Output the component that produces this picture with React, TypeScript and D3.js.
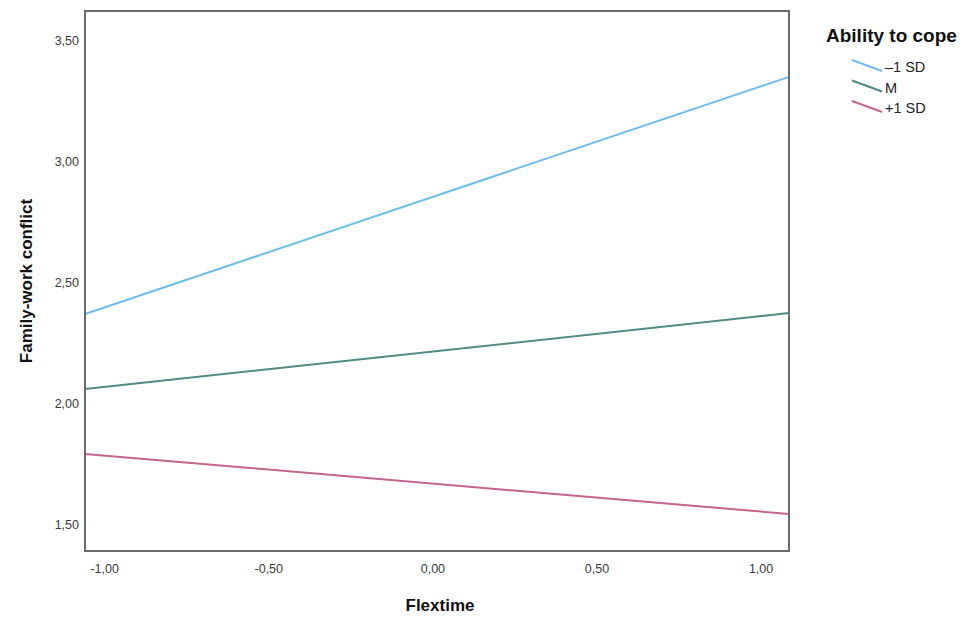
import React, { useEffect, useRef } from 'react';
import * as d3 from 'd3';

// Simple slopes: Family-work conflict by Flextime at levels of Ability to cope
const groups = ['\u20131 SD', 'M', '+1 SD'];
const colors = ['#6cbdf0', '#4f8c84', '#c4648f'];
const flexRange = [-1.06, 1.085];
const startValues = [2.372, 2.062, 1.794];
const endValues = [3.352, 2.376, 1.546];
const xTicks = [-1, -0.5, 0, 0.5, 1];
const yTicks = [1.5, 2, 2.5, 3, 3.5];

const W = 968;
const H = 617;
const margin = { top: 11, right: 179, bottom: 66, left: 85 };

export default function App() {
  const svgRef = useRef<SVGSVGElement | null>(null);

  useEffect(() => {
    const svg = d3.select(svgRef.current);
    svg.selectAll('*').remove();
    const innerW = W - margin.left - margin.right;
    const innerH = H - margin.top - margin.bottom;
    const font = 'Liberation Sans, Arial, sans-serif';

    const x = d3.scaleLinear().domain(flexRange).range([0, innerW]);
    const y = d3.scaleLinear().domain([1.393, 3.624]).range([innerH, 0]);
    const fmt = (v: number) => d3.format('.2f')(v).replace('.', ',').replace('\u2212', '-');

    const g = svg.append('g').attr('transform', `translate(${margin.left},${margin.top})`);

    // Lines
    const line = d3.line<[number, number]>().x(d => x(d[0])).y(d => y(d[1]));
    groups.forEach((name, i) => {
      g.append('path')
        .datum([[flexRange[0], startValues[i]], [flexRange[1], endValues[i]]] as [number, number][])
        .attr('d', line)
        .attr('fill', 'none')
        .attr('stroke', colors[i])
        .attr('stroke-width', 2);
    });

    // Frame
    g.append('rect').attr('x', 0).attr('y', 0).attr('width', innerW).attr('height', innerH)
      .attr('fill', 'none').attr('stroke', '#6b6b6b').attr('stroke-width', 2);

    // Tick labels
    g.selectAll('.ytick').data(yTicks).join('text').attr('class', 'ytick')
      .attr('x', -6).attr('y', d => y(d)).attr('dy', '0.35em').attr('text-anchor', 'end')
      .attr('font-family', font).attr('font-size', 12.5).attr('fill', '#3a3a3a').text(fmt);
    g.selectAll('.xtick').data(xTicks).join('text').attr('class', 'xtick')
      .attr('x', d => x(d)).attr('y', innerH + 22).attr('text-anchor', 'middle')
      .attr('font-family', font).attr('font-size', 12.5).attr('fill', '#3a3a3a').text(fmt);

    // Axis titles
    svg.append('text').attr('transform', `translate(32,${margin.top + innerH / 2}) rotate(-90)`)
      .attr('text-anchor', 'middle').attr('font-family', font).attr('font-size', 17)
      .attr('font-weight', 'bold').attr('fill', '#111').text('Family-work conflict');
    svg.append('text').attr('x', margin.left + innerW / 2 + 3).attr('y', 611)
      .attr('text-anchor', 'middle').attr('font-family', font).attr('font-size', 17)
      .attr('font-weight', 'bold').attr('fill', '#111').text('Flextime');

    // Legend
    const lg = svg.append('g').attr('transform', 'translate(826,0)');
    lg.append('text').attr('x', 0).attr('y', 42).attr('font-family', font).attr('font-size', 19)
      .attr('font-weight', 'bold').attr('fill', '#111').text('Ability to cope');
    groups.forEach((name, i) => {
      const cy = 66 + i * 20.5;
      lg.append('line').attr('x1', 26).attr('y1', cy - 6).attr('x2', 56).attr('y2', cy + 5)
        .attr('stroke', colors[i]).attr('stroke-width', 2);
      lg.append('text').attr('x', 59).attr('y', cy + 6).attr('font-family', font).attr('font-size', 14.5)
        .attr('fill', '#222').text(name);
    });
  }, []);

  return (
    <div style={{ position: 'fixed', left: 0, top: 0, width: W, height: H, overflow: 'hidden' }}>
      <svg ref={svgRef} width={W} height={H} style={{ display: 'block', background: '#fff' }} />
    </div>
  );
}
